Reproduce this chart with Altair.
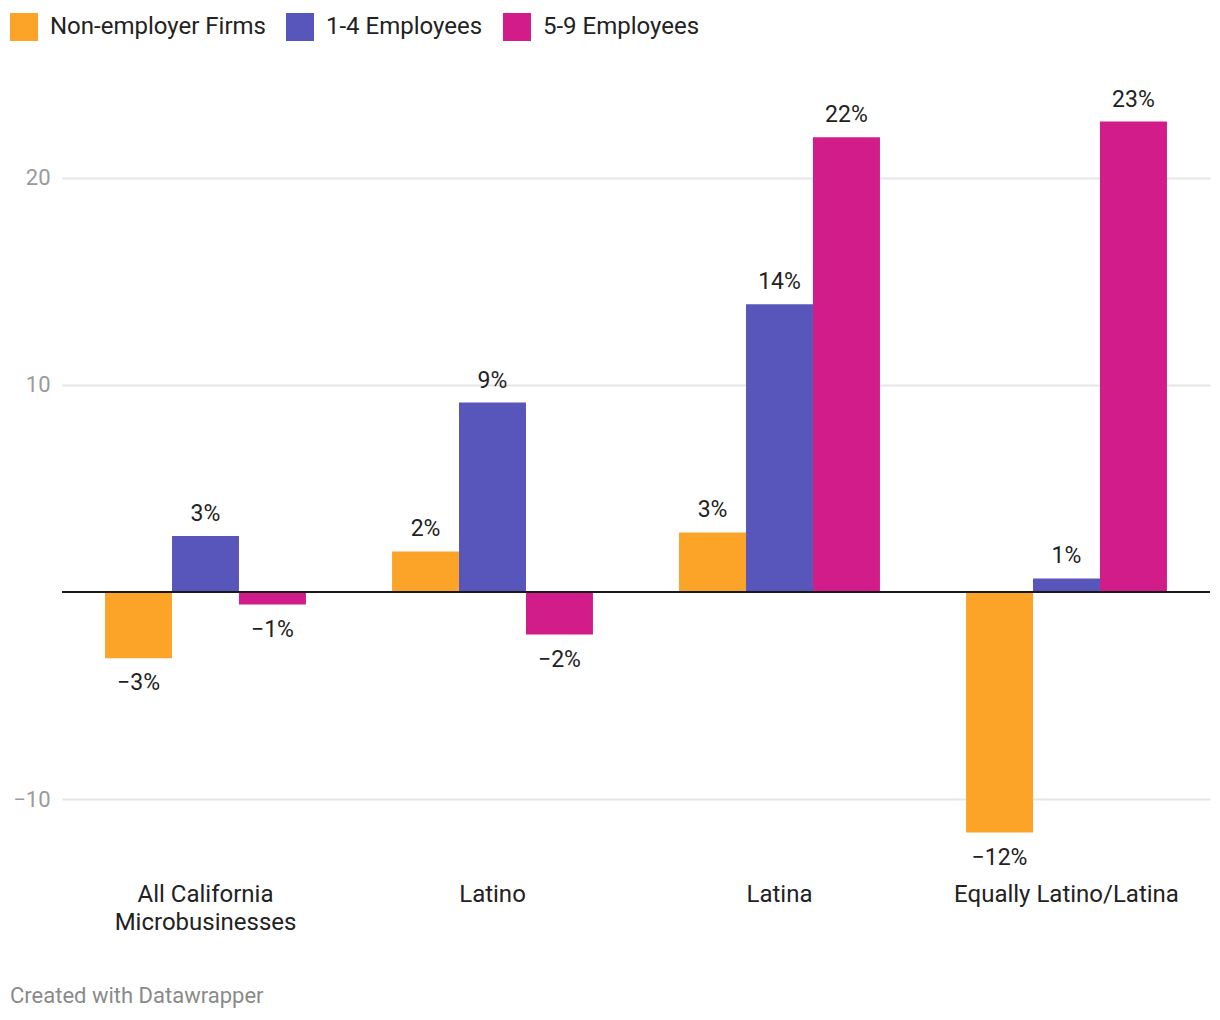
import altair as alt
import pandas as pd

categories = ["All California Microbusinesses", "Latino", "Latina", "Equally Latino/Latina"]
series = ["Non-employer Firms", "1-4 Employees", "5-9 Employees"]
non_employer = [-3.19, 1.96, 2.88, -11.61]
emp_1_4 = [2.71, 9.15, 13.9, 0.66]
emp_5_9 = [-0.6, -2.05, 21.96, 22.72]
colors = ["#FBA428", "#5856BA", "#D11C8A"]
y_ticks = [-10, 10, 20]

rows = []
for i, c in enumerate(categories):
    for s, vals in zip(series, [non_employer, emp_1_4, emp_5_9]):
        rows.append({"category": c, "series": s, "value": vals[i]})
df = pd.DataFrame(rows)

FONT = "Roboto"

x_enc = alt.X(
    "category:N",
    sort=categories,
    scale=alt.Scale(paddingInner=0.3, paddingOuter=0.15),
    axis=alt.Axis(
        title=None,
        domain=False,
        ticks=False,
        labelAngle=0,
        labelFontSize=24,
        labelColor="#222222",
        labelPadding=31,
        labelLineHeight=28,
        labelFont=FONT,
        labelLimit=500,
        labelExpr="datum.value == 'All California Microbusinesses' ? ['All California', 'Microbusinesses'] : datum.value",
    ),
)
xoff_enc = alt.XOffset("series:N", sort=series, scale=alt.Scale(paddingInner=0, paddingOuter=0))
y_scale = alt.Scale(domain=[-12.5, 24], nice=False, zero=True)

base = alt.Chart(df).encode(x=x_enc, xOffset=xoff_enc)

bars = base.mark_bar().encode(
    y=alt.Y(
        "value:Q",
        scale=y_scale,
        axis=alt.Axis(
            title=None,
            values=y_ticks,
            domain=False,
            ticks=False,
            grid=True,
            gridColor="#e5e5e5",
            gridWidth=2,
            labelFontSize=22,
            labelColor="#9a9a9a",
            labelPadding=12,
            labelFont=FONT,
        ),
    ),
    color=alt.Color(
        "series:N",
        sort=series,
        scale=alt.Scale(domain=series, range=colors),
        legend=alt.Legend(
            orient="none",
            legendX=-52,
            legendY=-82,
            direction="horizontal",
            title=None,
            symbolType="square",
            symbolSize=784,
            symbolStrokeWidth=0,
            symbolOpacity=1,
            labelFontSize=24,
            labelOffset=12,
            labelColor="#222222",
            labelFont=FONT,
            labelLimit=500,
            columnPadding=20,
            padding=0,
        ),
    ),
)

labels = base.transform_calculate(label="format(datum.value, '.0f') + '%'")

pos_text = labels.transform_filter("datum.value >= 0").mark_text(
    baseline="alphabetic", dy=-15, fontSize=23, font=FONT, color="#222222"
).encode(y=alt.Y("value:Q", scale=y_scale), text="label:N")

neg_text = labels.transform_filter("datum.value < 0").mark_text(
    baseline="alphabetic", dy=32, fontSize=23, font=FONT, color="#222222"
).encode(y=alt.Y("value:Q", scale=y_scale), text="label:N")

zero_rule = alt.Chart(df).mark_rule(color="#1a1a1a", strokeWidth=2).encode(y=alt.datum(0))

chart = (
    alt.layer(bars, zero_rule, pos_text, neg_text)
    .properties(
        width=1148,
        height=756,
        autosize=alt.AutoSizeParams(type="none"),
        padding={"left": 54, "top": 87, "right": 2, "bottom": 157},
        title=alt.Title(
            "Created with Datawrapper",
            orient="bottom",
            anchor="start",
            dx=0,
            offset=52,
            fontSize=22,
            fontWeight="normal",
            color="#8a8a8a",
            font=FONT,
        ),
    )
    .configure(font=FONT)
    .configure_view(strokeWidth=0, stroke="transparent")
)

chart.save("out.html", embed_options={"renderer": "svg", "actions": False})
